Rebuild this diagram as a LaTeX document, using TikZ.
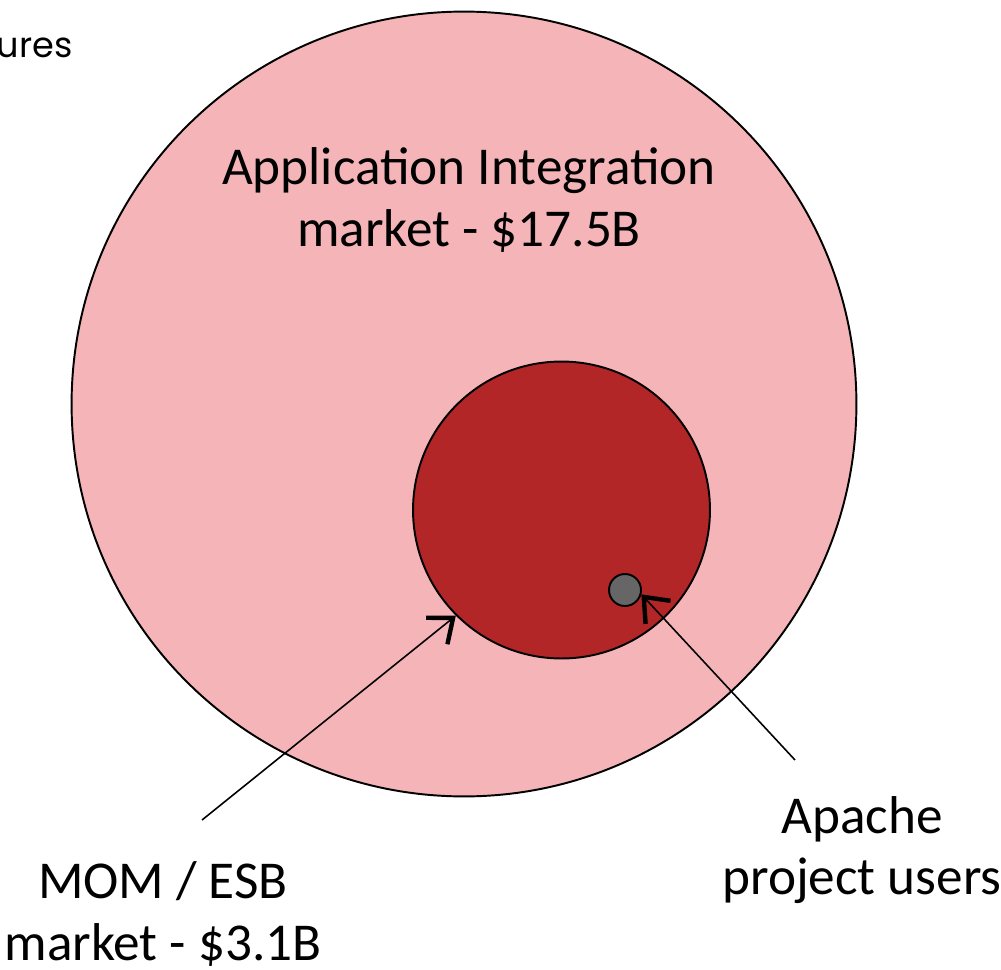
\documentclass[tikz,border=0pt]{standalone}
\usepackage{fontspec}
\setmainfont{Carlito}
\newfontfamily\headfont{Poppins}
\usetikzlibrary{arrows.meta,positioning,calc}
\definecolor{outer}{HTML}{F5B5B8}
\definecolor{inner}{HTML}{B22628}
\definecolor{core}{HTML}{666666}
\tikzset{ring/.style={circle,draw=black,line width=1.1pt,inner sep=0pt},lab/.style={align=center,font=\fontsize{30.3}{35}\selectfont},arrow/.style={-{Straight Barb[length=4.2mm,width=6.8mm,line width=2.5pt]},line width=0.9pt}}
\begin{document}
\begin{tikzpicture}[x=0.02cm,y=-0.02cm]
\useasboundingbox (0,0) rectangle (1001,970);
\node[ring,fill=outer,minimum size=15.7cm] (big) at (464,404) {};
\node[ring,fill=inner,minimum size=5.94cm] (mid) at (561.5,510) {};
\node[ring,fill=core,minimum size=0.64cm] (dot) at (625,590) {};
\node[lab] (ai) at (469,200) {Application Integration\\market - \$17.5B};
\node[lab] (mom) at (163,914) {MOM / ESB\\market - \$3.1B};
\node[lab] (apa) at (862,850) {Apache\\project users};
\node[anchor=east,font=\headfont\fontsize{20}{24}\selectfont,inner sep=0pt] (top) at (73,48) {ures};
\coordinate (m0) at (202,820);
\coordinate (a0) at (795,760);
\draw[arrow] (m0) -- (mid.225);
\draw[arrow] (a0) -- (dot.-15);
\end{tikzpicture}
\end{document}
